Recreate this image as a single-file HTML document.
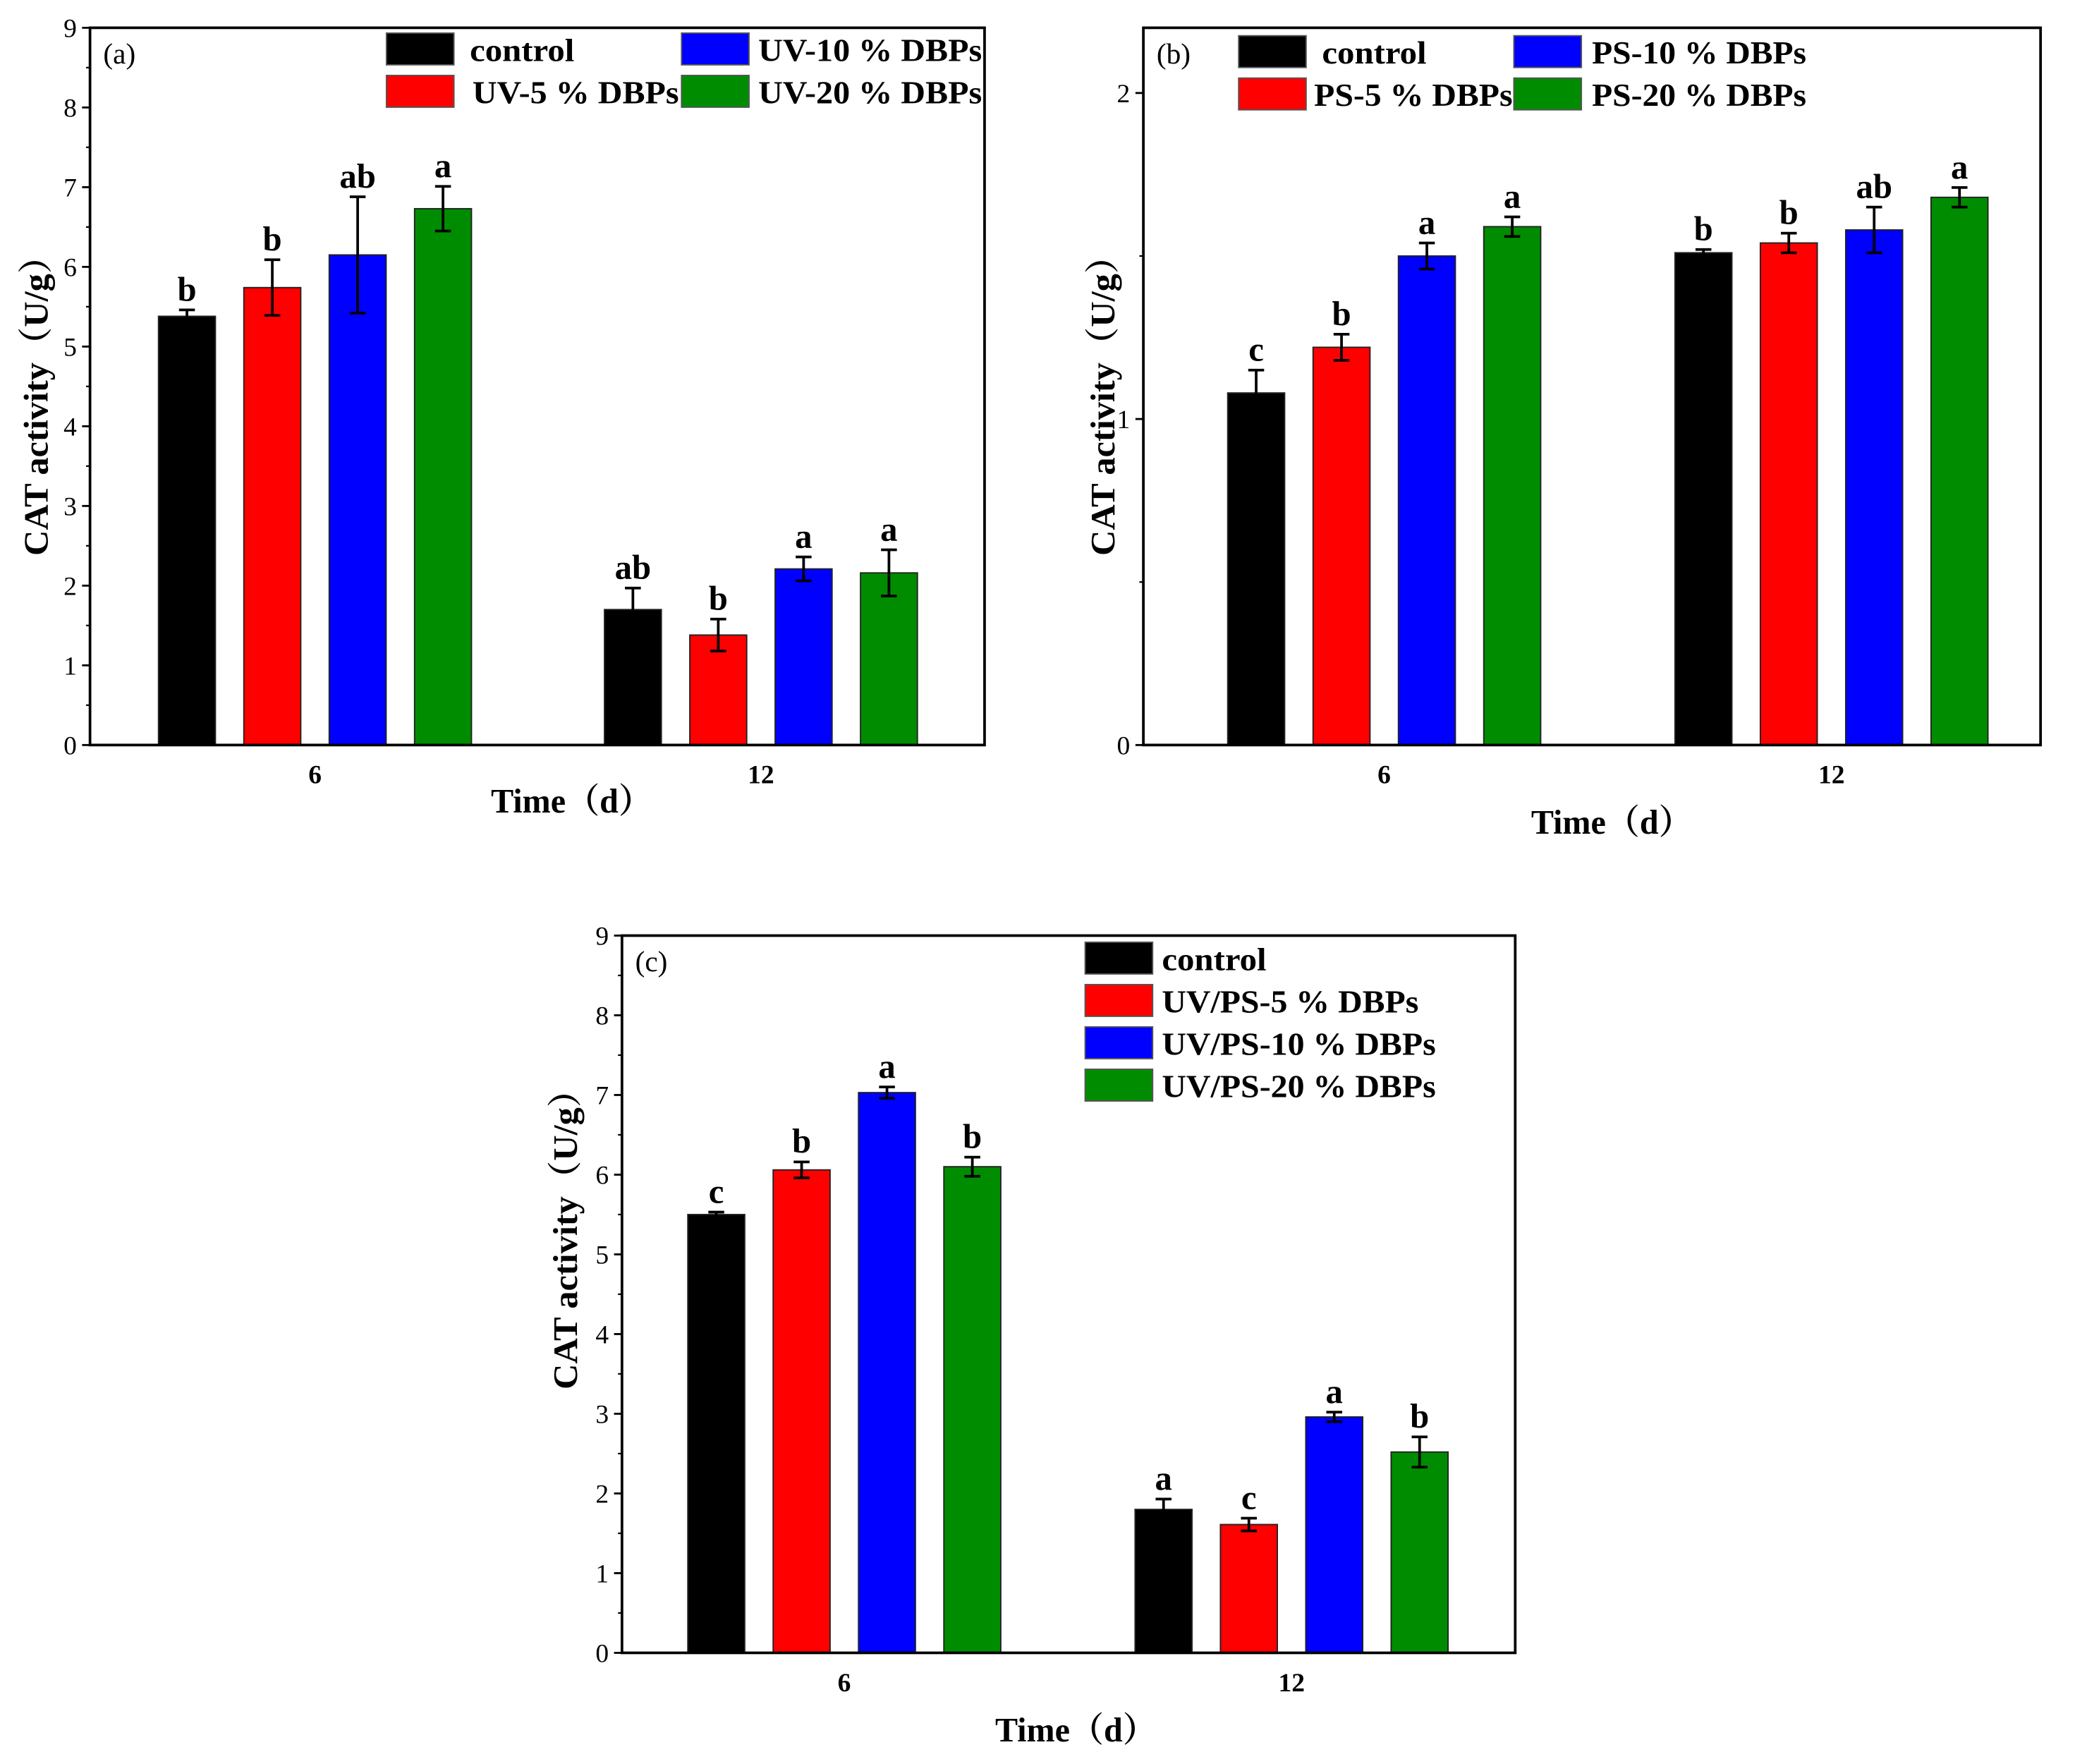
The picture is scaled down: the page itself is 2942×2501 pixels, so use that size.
<!DOCTYPE html>
<html><head><meta charset="utf-8"><style>
html,body{margin:0;padding:0;background:#fff;}
svg{display:block;}
text{font-family:"Liberation Serif","Noto Serif CJK SC",serif;}
</style></head><body>
<svg id="fig" width="2942" height="2501" viewBox="0 0 1568 1333" xmlns="http://www.w3.org/2000/svg"></svg>
<script>
const categories = ["6","12"];
const colors = ["#000000","#ff0000","#0000ff","#008c00"];
// panel a
const aSeries = [[5.38,1.70],[5.74,1.38],[6.15,2.21],[6.73,2.16]];
const aErr = [[0.08,0.27],[0.35,0.20],[0.73,0.15],[0.28,0.29]];
const aLetters = [["b","ab"],["b","b"],["ab","a"],["a","a"]];
const aLegend = ["control","UV-5 % DBPs","UV-10 % DBPs","UV-20 % DBPs"];
const aTicks = ["0","1","2","3","4","5","6","7","8","9"];
// panel b
const bSeries = [[1.08,1.51],[1.22,1.54],[1.50,1.58],[1.59,1.68]];
const bErr = [[0.07,0.01],[0.04,0.03],[0.04,0.07],[0.03,0.03]];
const bLetters = [["c","b"],["b","b"],["a","ab"],["a","a"]];
const bLegend = ["control","PS-5 % DBPs","PS-10 % DBPs","PS-20 % DBPs"];
const bTicks = ["0","1","2"];
// panel c
const cSeries = [[5.50,1.80],[6.06,1.61],[7.03,2.96],[6.10,2.52]];
const cErr = [[0.03,0.13],[0.10,0.08],[0.07,0.06],[0.12,0.19]];
const cLetters = [["c","a"],["b","c"],["a","a"],["b","b"]];
const cLegend = ["control","UV/PS-5 % DBPs","UV/PS-10 % DBPs","UV/PS-20 % DBPs"];
const cTicks = ["0","1","2","3","4","5","6","7","8","9"];

const NS="http://www.w3.org/2000/svg";
const svg=document.getElementById('fig');
function mk(tag,attrs,parent,txt){const e=document.createElementNS(NS,tag);for(const k in attrs)e.setAttribute(k,attrs[k]);if(txt!==undefined)e.textContent=txt;(parent||svg).appendChild(e);return e;}

function panel(p){
  const g=mk('g',{});
  
  
  const {L,R,T,B,ymax}=p;
  const y=v=>B-(v/ymax)*(B-T);
  const x=(ci,si)=>p.centers[ci]+(si-1.5)*64.5;
  p.ticks.forEach(t=>{
    const v=parseFloat(t);const yy=y(v);
    const tk=mk('line',{x1:L-6,x2:L,y1:yy,y2:yy,stroke:'#000','stroke-width':1.5},g);
    
    
    const lb=mk('text',{x:L-10,y:yy+7,'text-anchor':'end','font-size':20},g,t);
    
    
    if(v+p.minor<=ymax+1e-9){const ym=y(v+p.minor);mk('line',{x1:L-3,x2:L,y1:ym,y2:ym,stroke:'#000','stroke-width':1.2},g);}
  });
  p.series.forEach((s,si)=>{
    s.forEach((v,ci)=>{
      const cx=x(ci,si);
      const r=mk('rect',{x:cx-21.5,y:y(v),width:43,height:B-y(v),fill:colors[si],stroke:'#222','stroke-width':1},g);
      
      
      const e=p.err[si][ci];
      const eb=mk('path',{d:`M${cx},${y(v+e)}V${y(v-e)}M${cx-6},${y(v+e)}h12M${cx-6},${y(v-e)}h12`,stroke:'#000','stroke-width':2,fill:'none'},g);
      
      
      const lt=mk('text',{x:cx,y:y(v+e)-7,'text-anchor':'middle','font-size':26,'font-weight':'bold'},g,p.letters[si][ci]);
      
      
    });
  });
  const fr=mk('rect',{x:L,y:T,width:R-L,height:B-T,fill:'none',stroke:'#000','stroke-width':2},g);
  
  
  categories.forEach((c,ci)=>{
    const xl=mk('text',{x:p.centers[ci],y:B+29,'text-anchor':'middle','font-size':20,'font-weight':'bold'},g,c);
    
    
  });
  const xt=mk('text',{x:p.xt[0]-61,y:p.xt[1],'font-size':26,'font-weight':'bold',textLength:122,lengthAdjust:'spacingAndGlyphs'},g,'Time（d）');
  
  
  const yt=mk('text',{x:-120,y:0,'font-size':26,'font-weight':'bold',textLength:240,lengthAdjust:'spacingAndGlyphs',transform:`translate(${p.yt[0]},${p.yt[1]}) rotate(-90)`},g,'CAT activity（U/g）');
  
  
  const pl=mk('text',{x:L+10,y:T+27,'font-size':22},g,'('+p.id+')');
  
  
  p.legend.forEach((name,i)=>{
    const [sx,sy,tx,tw]=p.leg[i];
    const sw=mk('rect',{x:sx,y:sy,width:51,height:24,fill:colors[i],stroke:'#555','stroke-width':1},g);
    
    
    const lt=mk('text',{x:tx,y:sy+21,'font-size':24,'font-weight':'bold',textLength:tw,lengthAdjust:'spacingAndGlyphs'},g,name);
    
    
  });
}

panel({id:'a',L:68,R:744,T:21,B:563,ymax:9,minor:0.5,centers:[238,575],series:aSeries,err:aErr,letters:aLetters,legend:aLegend,ticks:aTicks,
  xt:[432,614],yt:[36,300],leg:[[292,25,355,79],[292,57,357,156],[515,25,573,169],[515,57,573,169]]});
panel({id:'b',L:864,R:1542,T:21,B:563,ymax:2.2,minor:0.5,centers:[1046,1384],series:bSeries,err:bErr,letters:bLetters,legend:bLegend,ticks:bTicks,
  xt:[1218,630],yt:[842,300],leg:[[936,27,999,79],[936,59,993,150],[1144,27,1203,162],[1144,59,1203,162]]});
panel({id:'c',L:470,R:1145,T:707,B:1249,ymax:9,minor:0.5,centers:[638,976],series:cSeries,err:cErr,letters:cLetters,legend:cLegend,ticks:cTicks,
  xt:[813,1316],yt:[436,930],leg:[[820,712,878,79],[820,744,878,194],[820,776,878,207],[820,808,878,207]]});
</script>
</body></html>
